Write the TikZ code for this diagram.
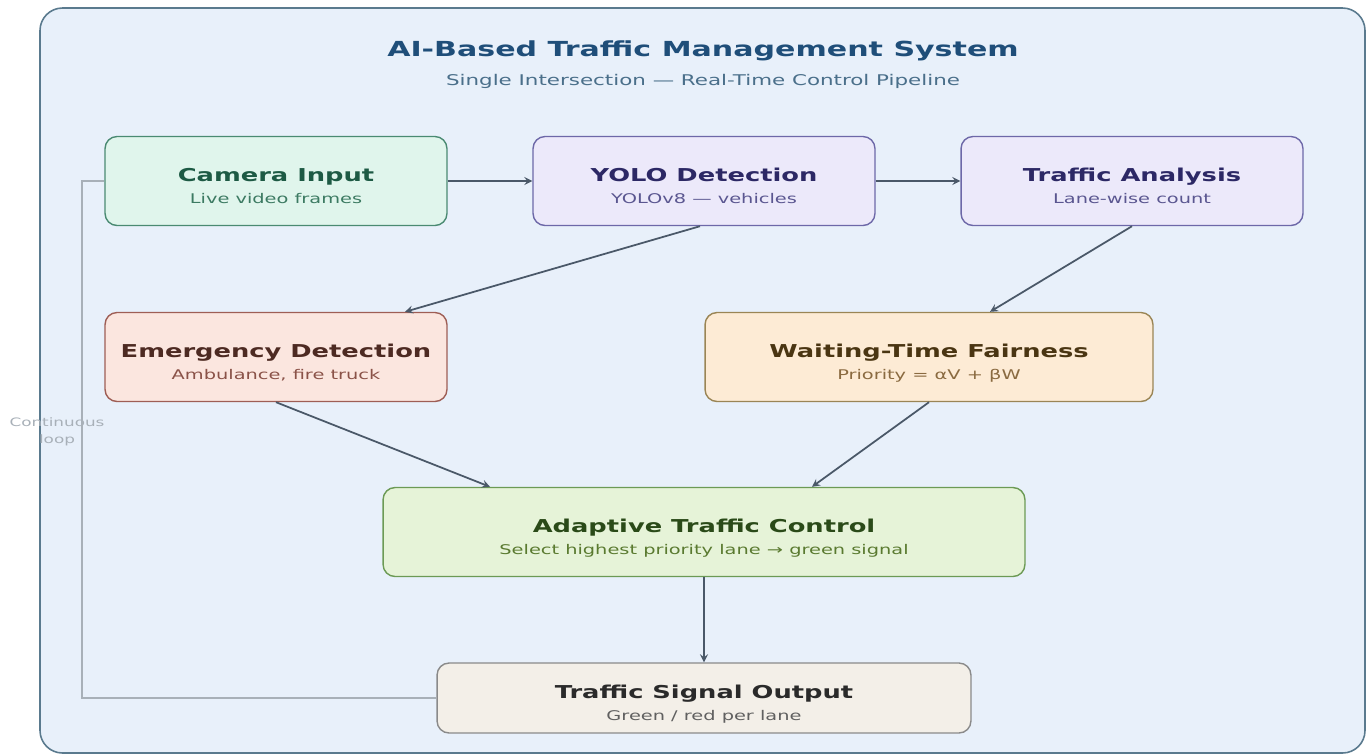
\documentclass[tikz,border=0pt]{standalone}
\usepackage{fontspec}
\setmainfont{DejaVu Sans}[FakeStretch=1.45]
\usetikzlibrary{calc}
\definecolor{framefill}{HTML}{E8F0FA}
\definecolor{framedraw}{HTML}{5A7A8E}
\definecolor{titlecol}{HTML}{1F4E79}
\definecolor{subcol}{HTML}{4A6F8A}
\definecolor{arrowcol}{HTML}{4A5868}
\definecolor{loopcol}{HTML}{A8B0B8}
\definecolor{camfill}{HTML}{E0F5EC}\definecolor{camdraw}{HTML}{4A8A72}
\definecolor{camtxt}{HTML}{1D5A44}\definecolor{camsub}{HTML}{3C7A62}
\definecolor{yolofill}{HTML}{ECE9FA}\definecolor{yolodraw}{HTML}{6D68A8}
\definecolor{yolotxt}{HTML}{2C2865}\definecolor{yolosub}{HTML}{5A5690}
\definecolor{emfill}{HTML}{FBE6DF}\definecolor{emdraw}{HTML}{9E5E55}
\definecolor{emtxt}{HTML}{4D2A22}\definecolor{emsub}{HTML}{8A5248}
\definecolor{waitfill}{HTML}{FDEBD5}\definecolor{waitdraw}{HTML}{9A8555}
\definecolor{waittxt}{HTML}{4A3512}\definecolor{waitsub}{HTML}{8A6A40}
\definecolor{adfill}{HTML}{E6F3D8}\definecolor{addraw}{HTML}{6C9A55}
\definecolor{adtxt}{HTML}{2A4A18}\definecolor{adsub}{HTML}{5A7A30}
\definecolor{sigfill}{HTML}{F3EFE8}\definecolor{sigdraw}{HTML}{8A8A8A}
\definecolor{sigtxt}{HTML}{2A2A2A}\definecolor{sigsub}{HTML}{606060}
% title line then subtitle line, title baseline at the box centre
\newcommand{\boxtext}[4]{\rule{0pt}{15.9pt}{\fontsize{10.1}{12.9}\selectfont\bfseries\color{#1}#2}\\{\color{#3}#4}\rule[-3pt]{0pt}{3pt}}
\tikzset{
  stage/.style={draw, rounded corners=0.24cm, line width=0.8pt, align=center,
    minimum width=6.84cm, minimum height=1.78cm, inner sep=0pt,
    font=\fontsize{7.6}{12.9}\selectfont},
  flow/.style={draw=arrowcol, line width=1pt, -stealth}
}
\begin{document}
\begin{tikzpicture}[x=0.02cm, y=-0.02cm]
\useasboundingbox (0,0) rectangle (1368,755);
\draw[framedraw, fill=framefill, line width=0.9pt, rounded corners=0.45cm] (40,8) rectangle (1365,753);
\node[titlecol, anchor=base] (title) at (703,56) {\fontsize{11.8}{14}\selectfont\bfseries AI-Based Traffic Management System};
\node[subcol, anchor=base] (subtitle) at (703,85) {\fontsize{8.4}{10}\selectfont Single Intersection — Real-Time Control Pipeline};
% stages
\node[stage, fill=camfill, draw=camdraw] (cam) at (276,181) {\boxtext{camtxt}{Camera Input}{camsub}{Live video frames}};
\node[stage, fill=yolofill, draw=yolodraw] (yolo) at (704,181) {\boxtext{yolotxt}{YOLO Detection}{yolosub}{YOLOv8 — vehicles}};
\node[stage, fill=yolofill, draw=yolodraw] (ana) at (1132,181) {\boxtext{yolotxt}{Traffic Analysis}{yolosub}{Lane-wise count}};
\node[stage, fill=emfill, draw=emdraw] (emer) at (276,357) {\boxtext{emtxt}{Emergency Detection}{emsub}{Ambulance, fire truck}};
\node[stage, fill=waitfill, draw=waitdraw, minimum width=8.96cm] (wait) at (929,357) {\boxtext{waittxt}{Waiting-Time Fairness}{waitsub}{Priority = αV + βW}};
\node[stage, fill=adfill, draw=addraw, minimum width=12.84cm] (adapt) at (704,532) {\boxtext{adtxt}{Adaptive Traffic Control}{adsub}{Select highest priority lane → green signal}};
\node[stage, fill=sigfill, draw=sigdraw, minimum width=10.68cm, minimum height=1.4cm] (sig) at (704,698) {\boxtext{sigtxt}{Traffic Signal Output}{sigsub}{Green / red per lane}};
% connectors
\draw[flow] (cam) -- (yolo);
\draw[flow] (yolo) -- (ana);
\draw[flow] ($(yolo.south)+(-4,0)$) -- ($(emer.north)+(129,0)$);
\draw[flow] (ana.south) -- ($(wait.north)+(61,0)$);
\draw[flow] (emer.south) -- ($(adapt.north)+(-214,0)$);
\draw[flow] (wait.south) -- ($(adapt.north)+(108,0)$);
\draw[flow] (adapt) -- (sig);
% feedback loop
\coordinate (loopx) at (82,0);
\draw[loopcol, line width=0.9pt] (sig.west) -- (sig.west -| loopx) |- (cam.west);
\node[loopcol, align=center, font=\fontsize{6.6}{9.5}\selectfont] (looplbl) at (57,432) {Continuous\\loop};
\end{tikzpicture}
\end{document}
